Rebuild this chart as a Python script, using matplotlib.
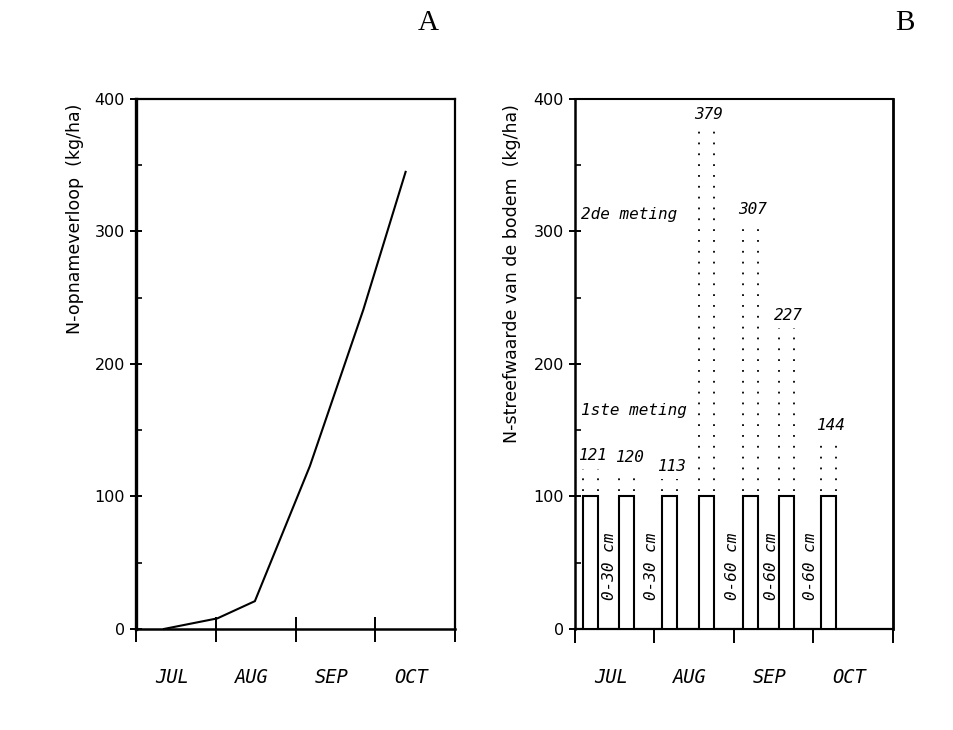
import matplotlib
matplotlib.use("Agg")
import matplotlib.pyplot as plt
from matplotlib.ticker import MultipleLocator
import matplotlib.transforms as mtransforms

# ---- data -------------------------------------------------------------
months = ["JUL", "AUG", "SEP", "OCT"]

# A: cumulative N uptake, time in months from 1 July
uptake_t = [0.35, 1.02, 1.49, 2.18, 2.85, 3.38]
uptake_n = [0, 8, 21, 123, 241, 345]

# B: soil N target value per sampling date
meas_t = [0.195, 0.65, 1.19, 1.655, 2.21, 2.66, 3.19]
meas_base = [100, 100, 100, 100, 100, 100, 100]
meas_value = [121, 120, 113, 379, 307, 227, 144]

depth_t = [0.43, 0.96, 1.98, 2.47, 2.96]
depth_text = ["0-30 cm", "0-30 cm", "0-60 cm", "0-60 cm", "0-60 cm"]

mono = "DejaVu Sans Mono"

fig = plt.figure(figsize=(9.54, 7.30), dpi=100)
axA = fig.add_axes([0.1426, 0.1384, 0.3344, 0.7260])
axB = fig.add_axes([0.6027, 0.1384, 0.3333, 0.7260])


def style_axes(ax, ylabel, ylabel_x, ylabel_y, xtick_dir, xtick_len):
    ax.set_xlim(0, 4)
    ax.set_ylim(0, 400)
    ax.yaxis.set_major_locator(MultipleLocator(100))
    ax.yaxis.set_minor_locator(MultipleLocator(50))
    ax.xaxis.set_major_locator(MultipleLocator(1))
    ax.set_xticklabels([])
    ax.tick_params(axis="y", which="major", direction="inout", length=8,
                   width=1.4, pad=4, labelsize=11.5)
    ax.tick_params(axis="y", which="minor", direction="in", length=4,
                   width=1.2)
    ax.tick_params(axis="x", which="major", direction=xtick_dir,
                   length=xtick_len, width=1.4)
    for lab in ax.get_yticklabels():
        lab.set_fontfamily("DejaVu Sans")
    trans = mtransforms.blended_transform_factory(ax.transData, ax.transAxes)
    for i, m in enumerate(months):
        ax.text(i + 0.45, -0.092, m, transform=trans, ha="center",
                va="center", fontsize=13.5, family=mono, style="italic")
    fig.text(ylabel_x, ylabel_y, ylabel, rotation=90, ha="center",
             va="center", fontsize=12.5, family="DejaVu Sans")


# ---- panel A ----------------------------------------------------------
style_axes(axA, "N-opnameverloop  (kg/ha)", 75 / 954, 1 - 219 / 730,
           "inout", 18)
axA.spines["left"].set_linewidth(2.4)
axA.spines["bottom"].set_linewidth(1.8)
axA.spines["top"].set_linewidth(1.6)
axA.spines["right"].set_linewidth(1.6)
axA.plot(uptake_t, uptake_n, color="black", lw=1.5, solid_joinstyle="miter",
         clip_on=False)

# ---- panel B ----------------------------------------------------------
style_axes(axB, "N-streefwaarde van de bodem  (kg/ha)", 512 / 954,
           1 - 274 / 730, "out", 10)
axB.spines["left"].set_linewidth(1.8)
axB.spines["bottom"].set_linewidth(1.6)
axB.spines["top"].set_linewidth(1.5)
axB.spines["right"].set_linewidth(2.0)

bar_w = 0.195
axB.bar(meas_t, meas_base, width=bar_w, facecolor="white",
        edgecolor="black", linewidth=1.5, zorder=3)
for t, b, v in zip(meas_t, meas_base, meas_value):
    for edge in (t - bar_w / 2, t + bar_w / 2):
        axB.plot([edge, edge], [b + 4, v], color="black", lw=1.3,
                 linestyle=(0, (1, 5)), zorder=2)
    axB.text(t + 0.03, v + 4, str(v), ha="center", va="bottom",
             fontsize=11.5, family=mono, style="italic")

for t, s in zip(depth_t, depth_text):
    axB.text(t, 47, s, rotation=90, ha="center", va="center",
             fontsize=11.5, family=mono, style="italic")

axB.text(0.07, 313, "2de meting", ha="left", va="center", fontsize=11.5,
         family=mono, style="italic")
axB.text(0.07, 165, "1ste meting", ha="left", va="center", fontsize=11.5,
         family=mono, style="italic")

# ---- panel letters ----------------------------------------------------
fig.text(428 / 954, 1 - 23 / 730, "A", ha="center", va="center",
         fontsize=21, family="Liberation Serif")
fig.text(905 / 954, 1 - 23 / 730, "B", ha="center", va="center",
         fontsize=21, family="Liberation Serif")

fig.savefig("out.png", dpi=100, facecolor="white")
